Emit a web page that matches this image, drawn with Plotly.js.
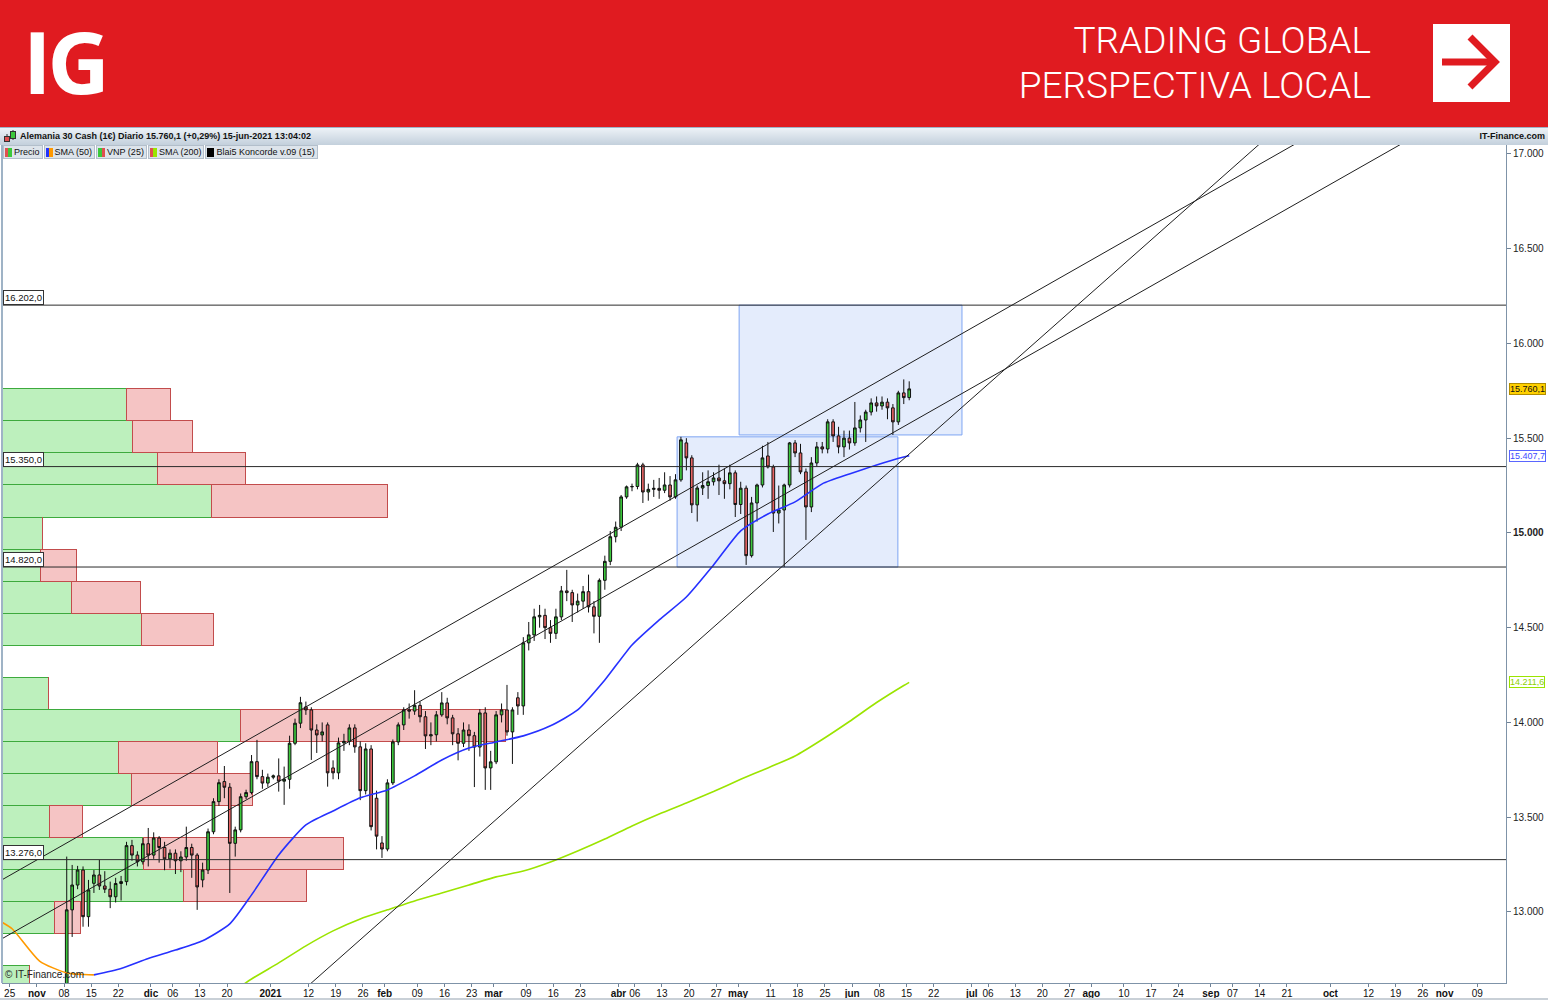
<!DOCTYPE html>
<html><head><meta charset="utf-8">
<script src="https://cdn.plot.ly/plotly-3.0.1.min.js"></script>
<style>
body{margin:0;width:1548px;height:1000px;overflow:hidden;background:#fff;position:relative;font-family:"Liberation Sans",Arial,sans-serif}
#hdr{position:absolute;left:0;top:0;width:1548px;height:127px;background:#E01B20}
#logo{position:absolute;left:23px;top:1px;color:#fff;font:700 86px "Open Sans",sans-serif;letter-spacing:-4px;line-height:120px}
.tag{position:absolute;right:177px;color:#fff;font:300 37px Roboto,sans-serif;white-space:nowrap;line-height:40px}
#arrow{position:absolute;left:1433px;top:24px;width:77px;height:78px;background:#fff}
#tbar{position:absolute;left:0;top:127px;width:1548px;height:18px;background:linear-gradient(#edf2f7,#c3d0dc);border-top:1px solid #9fb4c8;box-sizing:border-box}
#tbar .t{position:absolute;left:20px;top:3px;font:700 9px "Liberation Sans",Arial,sans-serif;color:#111;white-space:nowrap}
#tbar .r{position:absolute;right:3px;top:3px;font:700 9px "Liberation Sans",Arial,sans-serif;color:#111}
#leg{position:absolute;left:3px;top:145px;height:13px;z-index:5;display:flex}
#leg span{display:inline-flex;align-items:center;height:12px;background:#dde4eb;border:1px solid #b3bfcb;font:9px "Liberation Sans",Arial,sans-serif;color:#111;padding:0 2px 0 1px;margin-right:1px;white-space:nowrap}
#leg i{display:inline-block;width:7px;height:9px;margin-right:2px}
#chart{position:absolute;left:0;top:145px;width:1548px;height:855px}
#foot{position:absolute;left:0;top:998px;width:1548px;height:2px;background:#c9d0d7;z-index:5}
</style></head>
<body>
<div id="hdr">
  <div id="logo">IG</div>
  <div class="tag" style="top:21px">TRADING GLOBAL</div>
  <div class="tag" style="top:66px">PERSPECTIVA LOCAL</div>
  <div id="arrow"><svg width="77" height="78"><path d="M9 38 H60" stroke="#E01B20" stroke-width="7"/><path d="M37 13 L62 38 L37 63" fill="none" stroke="#E01B20" stroke-width="7"/></svg></div>
</div>
<div id="tbar">
  <svg style="position:absolute;left:3px;top:2px" width="14" height="13"><line x1="4" y1="4" x2="4" y2="12" stroke="#333"/><rect x="1.5" y="6.5" width="5" height="5" fill="#e05050" stroke="#333"/><line x1="10" y1="0" x2="10" y2="10" stroke="#333"/><rect x="7.5" y="1.5" width="5" height="7" fill="#3cc83c" stroke="#333"/></svg>
  <div class="t" id="ttxt"></div>
  <div class="r">IT-Finance.com</div>
</div>
<div id="chart"></div>
<div id="leg">
  <span><i style="background:linear-gradient(90deg,#e05050 50%,#3cc83c 50%)"></i>Precio</span>
  <span><i style="background:linear-gradient(90deg,#2233ff 50%,#ff9900 50%)"></i>SMA (50)</span>
  <span><i style="background:linear-gradient(90deg,#3cc83c 50%,#e05050 50%)"></i>VNP (25)</span>
  <span><i style="background:linear-gradient(90deg,#e05050 50%,#99e600 50%)"></i>SMA (200)</span>
  <span><i style="background:#000"></i>Blai5 Koncorde v.09 (15)</span>
</div>
<div id="foot"></div>
<script>
// ---------- price data (daily candles) ----------
const dates = ['2020-11-09','2020-11-10','2020-11-11','2020-11-12','2020-11-13','2020-11-16','2020-11-17','2020-11-18','2020-11-19','2020-11-20',
'2020-11-23','2020-11-24','2020-11-25','2020-11-26','2020-11-27','2020-11-30','2020-12-01','2020-12-02','2020-12-03','2020-12-04',
'2020-12-07','2020-12-08','2020-12-09','2020-12-10','2020-12-11','2020-12-14','2020-12-15','2020-12-16','2020-12-17','2020-12-18',
'2020-12-21','2020-12-22','2020-12-23','2020-12-24','2020-12-28','2020-12-29','2020-12-30','2020-12-31','2021-01-01','2021-01-04',
'2021-01-05','2021-01-06','2021-01-07','2021-01-08','2021-01-11','2021-01-12','2021-01-13','2021-01-14','2021-01-15','2021-01-18',
'2021-01-19','2021-01-20','2021-01-21','2021-01-22','2021-01-25','2021-01-26','2021-01-27','2021-01-28','2021-01-29','2021-02-01',
'2021-02-02','2021-02-03','2021-02-04','2021-02-05','2021-02-08','2021-02-09','2021-02-10','2021-02-11','2021-02-12','2021-02-15',
'2021-02-16','2021-02-17','2021-02-18','2021-02-19','2021-02-22','2021-02-23','2021-02-24','2021-02-25','2021-02-26','2021-03-01',
'2021-03-02','2021-03-03','2021-03-04','2021-03-05','2021-03-08','2021-03-09','2021-03-10','2021-03-11','2021-03-12','2021-03-15',
'2021-03-16','2021-03-17','2021-03-18','2021-03-19','2021-03-22','2021-03-23','2021-03-24','2021-03-25','2021-03-26','2021-03-29',
'2021-03-30','2021-03-31','2021-04-01','2021-04-02','2021-04-05','2021-04-06','2021-04-07','2021-04-08','2021-04-09','2021-04-12',
'2021-04-13','2021-04-14','2021-04-15','2021-04-16','2021-04-19','2021-04-20','2021-04-21','2021-04-22','2021-04-23','2021-04-26',
'2021-04-27','2021-04-28','2021-04-29','2021-04-30','2021-05-03','2021-05-04','2021-05-05','2021-05-06','2021-05-07','2021-05-10',
'2021-05-11','2021-05-12','2021-05-13','2021-05-14','2021-05-17','2021-05-18','2021-05-19','2021-05-20','2021-05-21','2021-05-24',
'2021-05-25','2021-05-26','2021-05-27','2021-05-28','2021-05-31','2021-06-01','2021-06-02','2021-06-03','2021-06-04','2021-06-07',
'2021-06-08','2021-06-09','2021-06-10','2021-06-11','2021-06-14','2021-06-15'];
const open = [12500,13011,13142,13221,12975,13151,13195,13137,13120,13080,
13150,13160,13350,13300,13265,13360,13300,13390,13340,13280,
13310,13270,13290,13340,13300,13169,13221,13423,13582,13688,
13658,13362,13433,13608,13630,13793,13714,13680,13711,13718,
13690,13700,13890,13996,14082,14066,13960,13934,13987,13760,
13734,13892,13900,13971,13871,13640,13860,13600,13364,13332,
13681,13897,13987,14066,14060,14090,14030,13929,13935,14040,
14103,14024,13940,13890,13960,13930,13870,14050,13760,13792,
14040,14066,13950,14130,14087,14420,14462,14557,14565,14500,
14470,14557,14694,14685,14620,14640,14690,14610,14560,14750,
14850,14980,15030,15190,15243,15245,15359,15216,15230,15235,
15225,15253,15190,15280,15475,15396,15148,15237,15250,15270,
15290,15275,15260,15317,15150,15236,14880,15158,15253,15406,
15348,15105,15121,15253,15475,15422,15322,15137,15369,15454,
15443,15586,15512,15454,15500,15475,15554,15596,15638,15686,
15670,15690,15660,15586,15739,15714];
const high = [13292,13248,13243,13240,13169,13221,13274,13215,13160,13180,
13190,13370,13380,13320,13390,13443,13420,13400,13370,13330,
13330,13320,13450,13360,13310,13260,13440,13600,13700,13770,
13680,13450,13625,13645,13828,13908,13750,13730,13725,13810,
13767,13930,14020,14135,14110,14080,13990,14000,14000,13800,
13920,13940,13990,13990,13900,13890,13880,13640,13400,13700,
13910,14000,14080,14100,14170,14110,14060,14000,14060,14160,
14130,14040,13970,14000,13990,13950,14070,14080,13850,14060,
14100,14198,14080,14160,14450,14530,14600,14620,14600,14540,
14600,14720,14805,14700,14680,14720,14780,14640,14760,14880,
15010,15060,15200,15250,15260,15370,15370,15260,15280,15290,
15320,15300,15310,15507,15500,15410,15250,15320,15330,15320,
15360,15340,15360,15330,15270,15250,15190,15260,15460,15480,
15360,15250,15260,15480,15490,15470,15340,15400,15480,15480,
15600,15600,15560,15540,15540,15691,15620,15650,15710,15720,
15720,15710,15680,15750,15810,15800];
const low = [12480,12868,13120,12922,12922,13100,13116,13100,13020,13050,
13060,13140,13270,13240,13250,13240,13280,13260,13220,13230,
13200,13210,13270,13180,13011,13130,13200,13410,13560,13600,
13100,13292,13420,13595,13620,13700,13650,13660,13700,13635,
13565,13650,13880,13970,14040,13802,13839,13900,13661,13700,
13700,13850,13880,13840,13590,13620,13430,13330,13285,13320,
13670,13880,13960,14020,14040,14000,13860,13880,13900,14030,
13990,13880,13800,13870,13850,13659,13820,13644,13644,13780,
14000,13930,13781,14040,14040,14380,14430,14500,14440,14420,
14440,14540,14640,14530,14580,14600,14580,14470,14420,14700,
14830,14950,15010,15180,15220,15230,15158,15170,15190,15180,
15210,15170,15180,15270,15330,15105,15060,15200,15180,15250,
15200,15180,15230,15084,15100,14831,14870,15060,15240,15340,
15005,15050,14820,15240,15400,15310,14963,15110,15350,15420,
15420,15480,15420,15400,15440,15460,15530,15480,15620,15640,
15650,15600,15517,15570,15680,15700];
const close = [13011,13142,13221,12975,13116,13195,13137,13120,13080,13150,
13160,13350,13300,13265,13360,13300,13390,13340,13280,13310,
13270,13290,13340,13300,13132,13221,13423,13582,13682,13658,
13362,13433,13608,13630,13793,13714,13680,13711,13718,13690,
13700,13890,13996,14104,14066,13960,13934,13950,13734,13734,
13892,13900,13971,13871,13640,13860,13450,13400,13332,13681,
13897,13987,14066,14060,14090,14030,13929,13935,14040,14103,
14024,13940,13890,13960,13930,13870,14050,13760,13792,14040,
14066,13950,14066,14087,14420,14462,14557,14565,14500,14470,
14557,14694,14685,14620,14640,14690,14610,14560,14750,14850,
14980,15030,15190,15243,15245,15359,15216,15230,15235,15225,
15253,15190,15280,15491,15396,15148,15237,15250,15270,15290,
15275,15260,15317,15150,15236,14880,15158,15253,15396,15348,
15105,15121,15253,15475,15422,15322,15137,15369,15454,15443,
15586,15512,15454,15500,15475,15554,15596,15638,15686,15670,
15690,15660,15586,15739,15714,15760.1];

// ---------- moving averages ----------
const sma50FallDates = ['2020-10-22','2020-10-26','2020-11-02','2020-11-09','2020-11-16'];
const sma50FallVals = [12947,12910,12741,12678,12668];
const sma50Dates = ['2020-11-16','2020-11-23','2020-11-30','2020-12-07','2020-12-14','2020-12-21','2020-12-28','2021-01-04','2021-01-11','2021-01-18','2021-01-25','2021-02-01','2021-02-08','2021-02-15','2021-02-22','2021-03-01','2021-03-08','2021-03-15','2021-03-22','2021-03-29','2021-04-05','2021-04-12','2021-04-19','2021-04-26','2021-05-03','2021-05-10','2021-05-17','2021-05-24','2021-05-31','2021-06-07','2021-06-14','2021-06-15'];
const sma50Vals = [12668,12702,12754,12799,12848,12937,13090,13301,13459,13533,13602,13644,13718,13802,13865,13897,13929,13982,14066,14224,14409,14541,14662,14831,15011,15100,15164,15259,15311,15359,15401,15407.7];
const sma200Dates = ['2020-12-21','2020-12-28','2021-01-04','2021-01-11','2021-01-18','2021-01-25','2021-02-01','2021-02-08','2021-02-15','2021-02-22','2021-03-01','2021-03-08','2021-03-15','2021-03-22','2021-03-29','2021-04-05','2021-04-12','2021-04-19','2021-04-26','2021-05-03','2021-05-10','2021-05-17','2021-05-24','2021-05-31','2021-06-07','2021-06-14','2021-06-15'];
const sma200Vals = [12567,12646,12731,12821,12900,12963,13011,13058,13100,13142,13185,13216,13264,13322,13385,13454,13517,13575,13635,13700,13760,13823,13910,14005,14105,14195,14211.6];

// ---------- volume profile (VNP) ----------
const binCenters = [15675.5,15506.5,15337.5,15168.5,14999.5,14830.5,14661.5,14492.5,14323.5,14154.5,13985.5,13816.5,13647.5,13478.5,13309.5,13140.5,12971.5,12802.5,12633.5];
const binSize = 169;
const buyVol  = [124,130,155,209,40,38,69,139,0,46,238,116,129,47,141,181,52,0,27];
const sellVol = [44,60,88,176,0,36,69,72,0,0,265,99,121,33,200,123,26,0,0];

// ---------- drawings ----------
const levels = [16202,15350,14820,13276];
const boxStart = ['2021-04-15 19:00','2021-05-03 05:00'];
const boxEnd   = ['2021-06-11 10:00','2021-06-29 05:00'];
const boxLow   = [14820,15517];
const boxHigh  = [15507,16202];
const lineStartDate = ['2020-10-22','2020-10-22','2021-01-04'];
const lineStartVal  = [13160,12849,12460];
const lineEndDate   = ['2021-11-15','2021-11-15','2021-11-15'];
const lineEndVal    = [17664,17345,18170];

// ---------- axis labels ----------
const yTicks = [13000,13500,14000,14500,15000,15500,16000,16500,17000];
const tickDates = ['2020-10-26','2020-11-02','2020-11-09','2020-11-16','2020-11-23','2020-12-01','2020-12-07','2020-12-14','2020-12-21','2021-01-01','2021-01-12','2021-01-19','2021-01-26','2021-02-01','2021-02-09','2021-02-16','2021-02-23','2021-03-01','2021-03-09','2021-03-16','2021-03-23','2021-04-01','2021-04-06','2021-04-13','2021-04-20','2021-04-27','2021-05-03','2021-05-11','2021-05-18','2021-05-25','2021-06-01','2021-06-08','2021-06-15','2021-06-22','2021-07-01','2021-07-06','2021-07-13','2021-07-20','2021-07-27','2021-08-02','2021-08-10','2021-08-17','2021-08-24','2021-09-01','2021-09-07','2021-09-14','2021-09-21','2021-10-01','2021-10-12','2021-10-19','2021-10-26','2021-11-01','2021-11-09'];
const tickText = ['25','<b>nov</b>','08','15','22','<b>dic</b>','06','13','20','<b>2021</b>','12','19','26','<b>feb</b>','09','16','23','<b>mar</b>','09','16','23','<b>abr</b>','06','13','20','27','<b>may</b>','11','18','25','<b>jun</b>','08','15','22','<b>jul</b>','06','13','20','27','<b>ago</b>','10','17','24','<b>sep</b>','07','14','21','<b>oct</b>','12','19','26','<b>nov</b>','09'];

function fmtEs(v, d){
  const s = v.toFixed(d); const p = s.split('.');
  const i = p[0].replace(/\B(?=(\d{3})+(?!\d))/g,'.');
  return p[1] ? i + ',' + p[1] : i;
}
const noon = d => d + ' 12:00';
const n = close.length;
const lastClose = close[n-1], prevClose = close[n-2];
const pct = (lastClose/prevClose - 1)*100;
document.getElementById('ttxt').textContent =
  'Alemania 30 Cash (1€) Diario ' + fmtEs(lastClose,1) + ' (' + (pct>=0?'+':'') + fmtEs(pct,2) + '%) 15-jun-2021 13:04:02';

const traces = [
  {type:'bar', orientation:'h', y:binCenters, x:buyVol, width:binSize, xaxis:'x', yaxis:'y',
   marker:{color:'#bdf0bd', line:{color:'#3daa3d', width:1}}, hoverinfo:'skip'},
  {type:'bar', orientation:'h', y:binCenters, x:sellVol, width:binSize, xaxis:'x', yaxis:'y',
   marker:{color:'#f5c4c4', line:{color:'#c24c4c', width:1}}, hoverinfo:'skip'},
  {type:'scatter', mode:'lines', x:sma200Dates.map(noon), y:sma200Vals, xaxis:'x2', yaxis:'y',
   line:{color:'#9be400', width:1.6, shape:'spline', smoothing:0.6}, hoverinfo:'skip'},
  {type:'scatter', mode:'lines', x:sma50FallDates.map(noon), y:sma50FallVals, xaxis:'x2', yaxis:'y',
   line:{color:'#ff9a00', width:1.6, shape:'spline', smoothing:0.6}, hoverinfo:'skip'},
  {type:'scatter', mode:'lines', x:sma50Dates.map(noon), y:sma50Vals, xaxis:'x2', yaxis:'y',
   line:{color:'#2631ff', width:1.6, shape:'spline', smoothing:0.6}, hoverinfo:'skip'},
  {type:'candlestick', x:dates.map(noon), open:open, high:high, low:low, close:close, xaxis:'x2', yaxis:'y',
   increasing:{fillcolor:'#3cc83c', line:{color:'#111', width:1}},
   decreasing:{fillcolor:'#e66464', line:{color:'#111', width:1}},
   whiskerwidth:0, hoverinfo:'skip'}
];

const shapes = [];
for (let i=0;i<boxStart.length;i++){
  shapes.push({type:'rect', xref:'x2', yref:'y', x0:boxStart[i], x1:boxEnd[i], y0:boxLow[i], y1:boxHigh[i],
    fillcolor:'rgba(185,205,248,0.38)', line:{color:'#7ea4f2', width:1}, layer:'below'});
}
levels.forEach(v => shapes.push({type:'line', xref:'paper', yref:'y', x0:0, x1:1, y0:v, y1:v,
  line:{color:'#2b2b2b', width:1}, layer:'above'}));
for (let i=0;i<lineStartDate.length;i++){
  shapes.push({type:'line', xref:'x2', yref:'y', x0:lineStartDate[i], x1:lineEndDate[i], y0:lineStartVal[i], y1:lineEndVal[i],
    line:{color:'#1e1e1e', width:1}, layer:'above'});
}
shapes.push({type:'line', xref:'paper', yref:'paper', x0:0, x1:0, y0:0, y1:1, line:{color:'#9fb3c6', width:2}});

const annotations = [];
levels.forEach(v => annotations.push({xref:'paper', yref:'y', x:0, y:v, xanchor:'left', yanchor:'bottom',
  xshift:1, text:fmtEs(v,1), showarrow:false, bgcolor:'#fff', bordercolor:'#333', borderwidth:1, borderpad:1,
  font:{size:9.5, color:'#111', family:'Liberation Sans, Arial'}}));
const rightLab = (y, bg, bc, fc) => ({xref:'paper', yref:'y', x:1, y:y, xanchor:'left', yanchor:'middle', xshift:3,
  text:fmtEs(y,1), showarrow:false, bgcolor:bg, bordercolor:bc, borderwidth:1, borderpad:0,
  font:{size:9, color:fc, family:'Liberation Sans, Arial'}});
annotations.push(rightLab(lastClose, '#ffd000', '#b08c00', '#111'));
annotations.push(rightLab(sma50Vals[sma50Vals.length-1], '#fff', '#5a66ff', '#3d4bff'));
annotations.push(rightLab(sma200Vals[sma200Vals.length-1], '#fff', '#9be400', '#8ccf00'));
annotations.push({xref:'paper', yref:'paper', x:0, y:0, xanchor:'left', yanchor:'bottom', xshift:1, yshift:1,
  text:'© IT-Finance.com', showarrow:false, font:{size:10, color:'#222', family:'Liberation Sans, Arial'}});

const layout = {
  width:1548, height:855, margin:{l:2, r:42, t:0, b:17},
  paper_bgcolor:'#fff', plot_bgcolor:'#fff', showlegend:false, barmode:'stack',
  font:{family:'Liberation Sans, Arial', size:10, color:'#111'},
  xaxis:{type:'linear', range:[0,1504], visible:false, fixedrange:true},
  xaxis2:{type:'date', overlaying:'x', anchor:'y', side:'bottom',
    range:['2020-10-22 14:10','2021-11-16 07:10'],
    rangebreaks:[{bounds:['sat','mon']},{values:['2020-12-25']}],
    tickmode:'array', tickvals:tickDates, ticktext:tickText, ticks:'outside', ticklen:3, tickcolor:'#6f8296',
    ticklabelstandoff:-2,
    showgrid:false, zeroline:false, showline:true, linecolor:'#7f93a8', linewidth:1,
    tickfont:{size:10, family:'Liberation Sans Narrow, Arial Narrow, Liberation Sans, Arial', color:'#111'},
    rangeslider:{visible:false}, fixedrange:true},
  yaxis:{side:'right', range:[12625,17047], tickmode:'array', tickvals:yTicks,
    ticktext:yTicks.map(v => v===15000 ? '<b>'+fmtEs(v,0)+'</b>' : fmtEs(v,0)),
    ticks:'outside', ticklen:4, tickcolor:'#6f8296', showgrid:false, zeroline:false,
    showline:true, linecolor:'#7f93a8', linewidth:1, tickfont:{size:10, color:'#222'}, fixedrange:true},
  shapes:shapes, annotations:annotations
};
Plotly.newPlot('chart', traces, layout, {staticPlot:true, displayModeBar:false});
</script>
</body></html>
